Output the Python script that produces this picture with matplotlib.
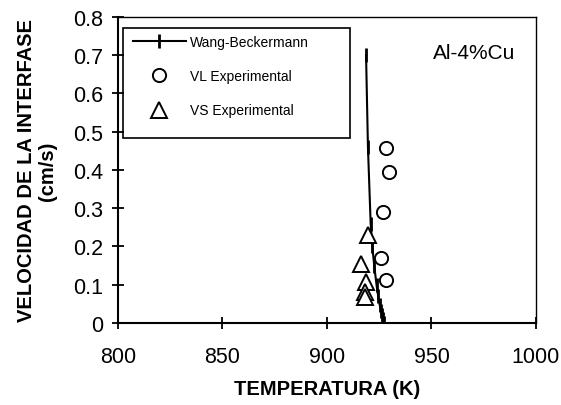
import numpy as np
import matplotlib.pyplot as plt
from matplotlib.patches import Rectangle

plt.rcParams['font.family'] = ['Liberation Sans', 'DejaVu Sans']

# Wang-Beckermann model
wb_t = [918.7, 919.6, 920.9, 921.7, 922.6, 923.7, 924.5, 925.2, 925.8, 926.4, 926.9, 927.3]
wb_v = [0.70, 0.46, 0.26, 0.20, 0.15, 0.10, 0.07, 0.048, 0.032, 0.02, 0.01, 0.0]

# VL experimental
vl_t = [928.4, 929.5, 926.6, 925.9, 928.2]
vl_v = [0.458, 0.396, 0.291, 0.170, 0.113]

# VS experimental
vs_t = [919.8, 916.1, 918.7, 918.2, 918.2]
vs_v = [0.229, 0.154, 0.106, 0.080, 0.068]

fig = plt.figure(figsize=(5.61, 4.06), dpi=100)
ax = fig.add_axes([0.2103, 0.2020, 0.7451, 0.7537])

ax.plot(wb_t, wb_v, color='black', lw=1.5, marker='|', ms=10, mew=2,
        label='Wang-Beckermann', zorder=3)
ax.plot(vl_t, vl_v, ls='none', marker='o', ms=9.5, mfc='white', mec='black',
        mew=1.4, label='VL Experimental', zorder=4)
ax.plot(vs_t, vs_v, ls='none', marker='^', ms=11, mfc='white', mec='black',
        mew=1.4, label='VS Experimental', zorder=4)

ax.set_xlim(800, 1000)
ax.set_ylim(0, 0.8)
ax.set_xticks([800, 850, 900, 950, 1000])
ax.set_yticks(np.arange(0, 0.81, 0.1))
ax.set_yticklabels(['0', '0.1', '0.2', '0.3', '0.4', '0.5', '0.6', '0.7', '0.8'])
ax.tick_params(direction='inout', length=9, width=1.3, labelsize=15.5)
ax.tick_params(axis='x', pad=12)
ax.tick_params(axis='y', pad=6)
for s in ['top', 'right']:
    ax.spines[s].set_linewidth(1.0)
for s in ['left', 'bottom']:
    ax.spines[s].set_linewidth(1.5)

ax.set_xlabel('TEMPERATURA (K)', fontsize=14.5, fontweight='bold', labelpad=9)
ax.set_ylabel('VELOCIDAD DE LA INTERFASE\n(cm/s)', fontsize=14.5,
              fontweight='bold', labelpad=12, linespacing=1.1)

ax.text(0.754, 0.866, 'Al-4%Cu', transform=ax.transAxes, fontsize=15,
        va='baseline')

# legend frame
ax.add_patch(Rectangle((0.011, 0.604), 0.544, 0.361, transform=ax.transAxes,
                       fill=False, edgecolor='black', lw=1.2, zorder=5))
ax.legend(loc='upper left', bbox_to_anchor=(0.020, 0.965), fontsize=10,
          frameon=False, handlelength=3.76, handletextpad=0.3,
          labelspacing=1.47, borderaxespad=0, borderpad=0.5)

fig.savefig('out.png', dpi=100)
